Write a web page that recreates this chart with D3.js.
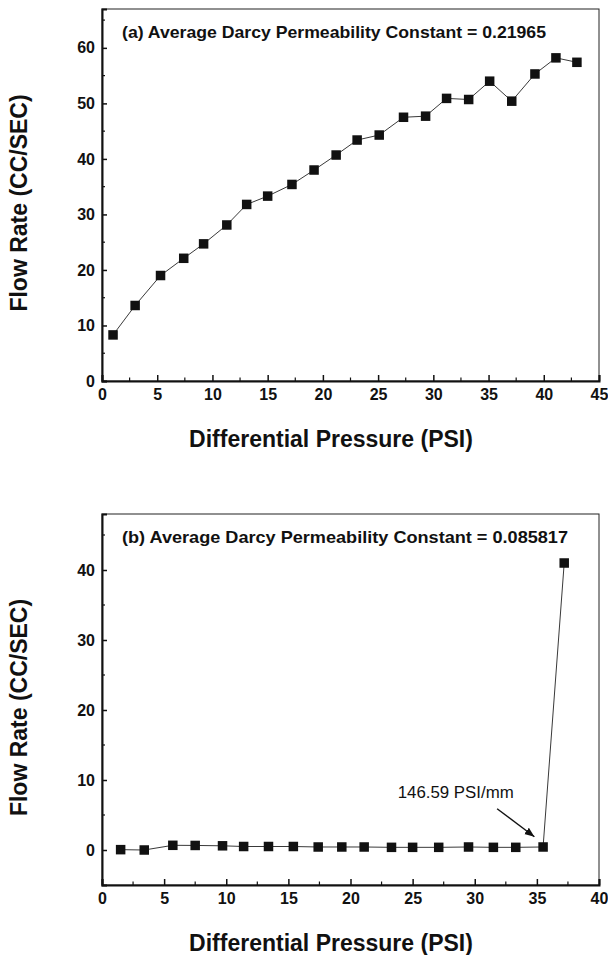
<!DOCTYPE html>
<html>
<head>
<meta charset="utf-8">
<script src="https://cdn.jsdelivr.net/npm/d3@7"></script>
<style>
  html, body { margin: 0; padding: 0; background: #fff; }
  svg { display: block; }
  text { font-family: "Liberation Sans", Arial, sans-serif; fill: #111; }
</style>
</head>
<body>
<svg id="chart" width="608" height="955"></svg>
<script>
// panel (a) readings
const pressureA = [1, 3, 5.3, 7.4, 9.2, 11.3, 13.1, 15, 17.2, 19.2, 21.2, 23.1, 25.1, 27.3, 29.3, 31.2, 33.2, 35.1, 37.1, 39.2, 41.1, 43];
const flowA = [8.3, 13.6, 19.0, 22.1, 24.7, 28.1, 31.8, 33.3, 35.4, 38.0, 40.7, 43.4, 44.3, 47.5, 47.7, 50.9, 50.7, 54.0, 50.4, 55.3, 58.2, 57.4];
const ticksA_x = [0, 5, 10, 15, 20, 25, 30, 35, 40, 45];
const ticksA_y = [0, 10, 20, 30, 40, 50, 60];

// panel (b) readings
const pressureB = [1.5, 3.4, 5.7, 7.5, 9.7, 11.4, 13.4, 15.4, 17.4, 19.3, 21.1, 23.3, 25.0, 27.1, 29.5, 31.5, 33.3, 35.5, 37.2];
const flowB = [0.05, 0.0, 0.67, 0.65, 0.6, 0.5, 0.5, 0.5, 0.43, 0.43, 0.43, 0.38, 0.38, 0.38, 0.43, 0.38, 0.38, 0.43, 41.0];
const ticksB_x = [0, 5, 10, 15, 20, 25, 30, 35, 40];
const ticksB_y = [0, 10, 20, 30, 40];

const svg = d3.select("#chart");
const FONT = '"Liberation Sans", Arial, sans-serif';

function drawPanel(o) {
  const x = d3.scaleLinear().domain(o.xDomain).range([o.left, o.right]);
  const y = d3.scaleLinear().domain(o.yDomain).range([o.bottom, o.top]);
  const g = svg.append("g");

  // frame (top/right thin)
  g.append("rect")
    .attr("x", o.left).attr("y", o.top)
    .attr("width", o.right - o.left).attr("height", o.bottom - o.top)
    .attr("fill", "none").attr("stroke", "#222").attr("stroke-width", 1);

  // bottom axis, ticks inward
  const xAxis = d3.axisBottom(x).tickValues(o.xTicks).tickSize(-6).tickPadding(8)
    .tickFormat(d3.format("d"));
  const gx = g.append("g").attr("transform", `translate(0,${o.bottom})`).call(xAxis);
  gx.select(".domain").attr("stroke", "#111").attr("stroke-width", 2);
  gx.selectAll(".tick line").attr("stroke", "#111").attr("stroke-width", 1.5);
  gx.selectAll(".tick text").attr("font-size", 16).attr("font-weight", "bold")
    .attr("font-family", FONT).attr("fill", "#111");

  const xMinor = d3.range(o.xDomain[0] + 2.5, o.xDomain[1], 5);
  g.selectAll(".xminor").data(xMinor).enter().append("line")
    .attr("x1", d => x(d)).attr("x2", d => x(d))
    .attr("y1", o.bottom).attr("y2", o.bottom - 3.5)
    .attr("stroke", "#111").attr("stroke-width", 1.2);

  // left axis
  const yAxis = d3.axisLeft(y).tickValues(o.yTicks).tickSize(-5).tickPadding(7)
    .tickFormat(d3.format("d"));
  const gy = g.append("g").attr("transform", `translate(${o.left},0)`).call(yAxis);
  gy.select(".domain").attr("stroke", "#111").attr("stroke-width", 2);
  gy.selectAll(".tick line").attr("stroke", "#111").attr("stroke-width", 1.5);
  gy.selectAll(".tick text").attr("font-size", 16).attr("font-weight", "bold")
    .attr("font-family", FONT).attr("fill", "#111");

  const yMinor = o.yMinor.filter(v => v > o.yDomain[0] && v < o.yDomain[1]);
  g.selectAll(".yminor").data(yMinor).enter().append("line")
    .attr("x1", o.left).attr("x2", o.left + 3)
    .attr("y1", d => y(d)).attr("y2", d => y(d))
    .attr("stroke", "#111").attr("stroke-width", 1.2);

  // series
  const pts = o.xs.map((v, i) => [v, o.ys[i]]);
  g.append("path").datum(pts)
    .attr("d", d3.line().x(d => x(d[0])).y(d => y(d[1])))
    .attr("fill", "none").attr("stroke", "#222").attr("stroke-width", 0.9);
  const s = 9.5;
  g.selectAll(".pt").data(pts).enter().append("rect")
    .attr("x", d => x(d[0]) - s / 2).attr("y", d => y(d[1]) - s / 2)
    .attr("width", s).attr("height", s).attr("fill", "#111");

  // panel title
  g.append("text").attr("x", o.left + 20).attr("y", o.top + 29)
    .attr("font-size", 17).attr("font-weight", "bold")
    .attr("textLength", o.titleLen).attr("lengthAdjust", "spacingAndGlyphs")
    .text(o.title);

  // axis titles
  g.append("text").attr("x", 331).attr("y", o.bottom + 66)
    .attr("text-anchor", "middle").attr("font-size", 23).attr("font-weight", "bold")
    .text("Differential Pressure (PSI)");
  g.append("text")
    .attr("transform", `translate(27,${(o.top + o.bottom) / 2 + 8}) rotate(-90)`)
    .attr("text-anchor", "middle").attr("font-size", 23).attr("font-weight", "bold")
    .text("Flow Rate (CC/SEC)");

  return { x, y, g };
}

drawPanel({
  left: 102, right: 599, top: 9, bottom: 381,
  xDomain: [0, 45], yDomain: [0, 67],
  xTicks: ticksA_x, yTicks: ticksA_y, yMinor: d3.range(5, 67, 10),
  xs: pressureA, ys: flowA,
  title: "(a) Average Darcy Permeability Constant = 0.21965", titleLen: 424
});

const pb = drawPanel({
  left: 102, right: 599, top: 514, bottom: 885,
  xDomain: [0, 40], yDomain: [-5, 48],
  xTicks: ticksB_x, yTicks: ticksB_y, yMinor: d3.range(-5, 48, 10),
  xs: pressureB, ys: flowB,
  title: "(b) Average Darcy Permeability Constant = 0.085817", titleLen: 446
});

// annotation in panel (b)
pb.g.append("text").attr("x", pb.x(23.8)).attr("y", pb.y(7.5))
  .attr("font-size", 16).attr("textLength", 116).attr("lengthAdjust", "spacingAndGlyphs")
  .text("146.59 PSI/mm");
svg.append("defs").append("marker").attr("id", "arr")
  .attr("viewBox", "0 0 10 10").attr("refX", 10).attr("refY", 5)
  .attr("markerWidth", 7).attr("markerHeight", 7).attr("orient", "auto")
  .append("path").attr("d", "M0,1 L10,5 L0,9 Z").attr("fill", "#111");
pb.g.append("line")
  .attr("x1", pb.x(31.8)).attr("y1", pb.y(5.9))
  .attr("x2", pb.x(34.8)).attr("y2", pb.y(1.9))
  .attr("stroke", "#111").attr("stroke-width", 1.4)
  .attr("marker-end", "url(#arr)");
</script>
</body>
</html>
